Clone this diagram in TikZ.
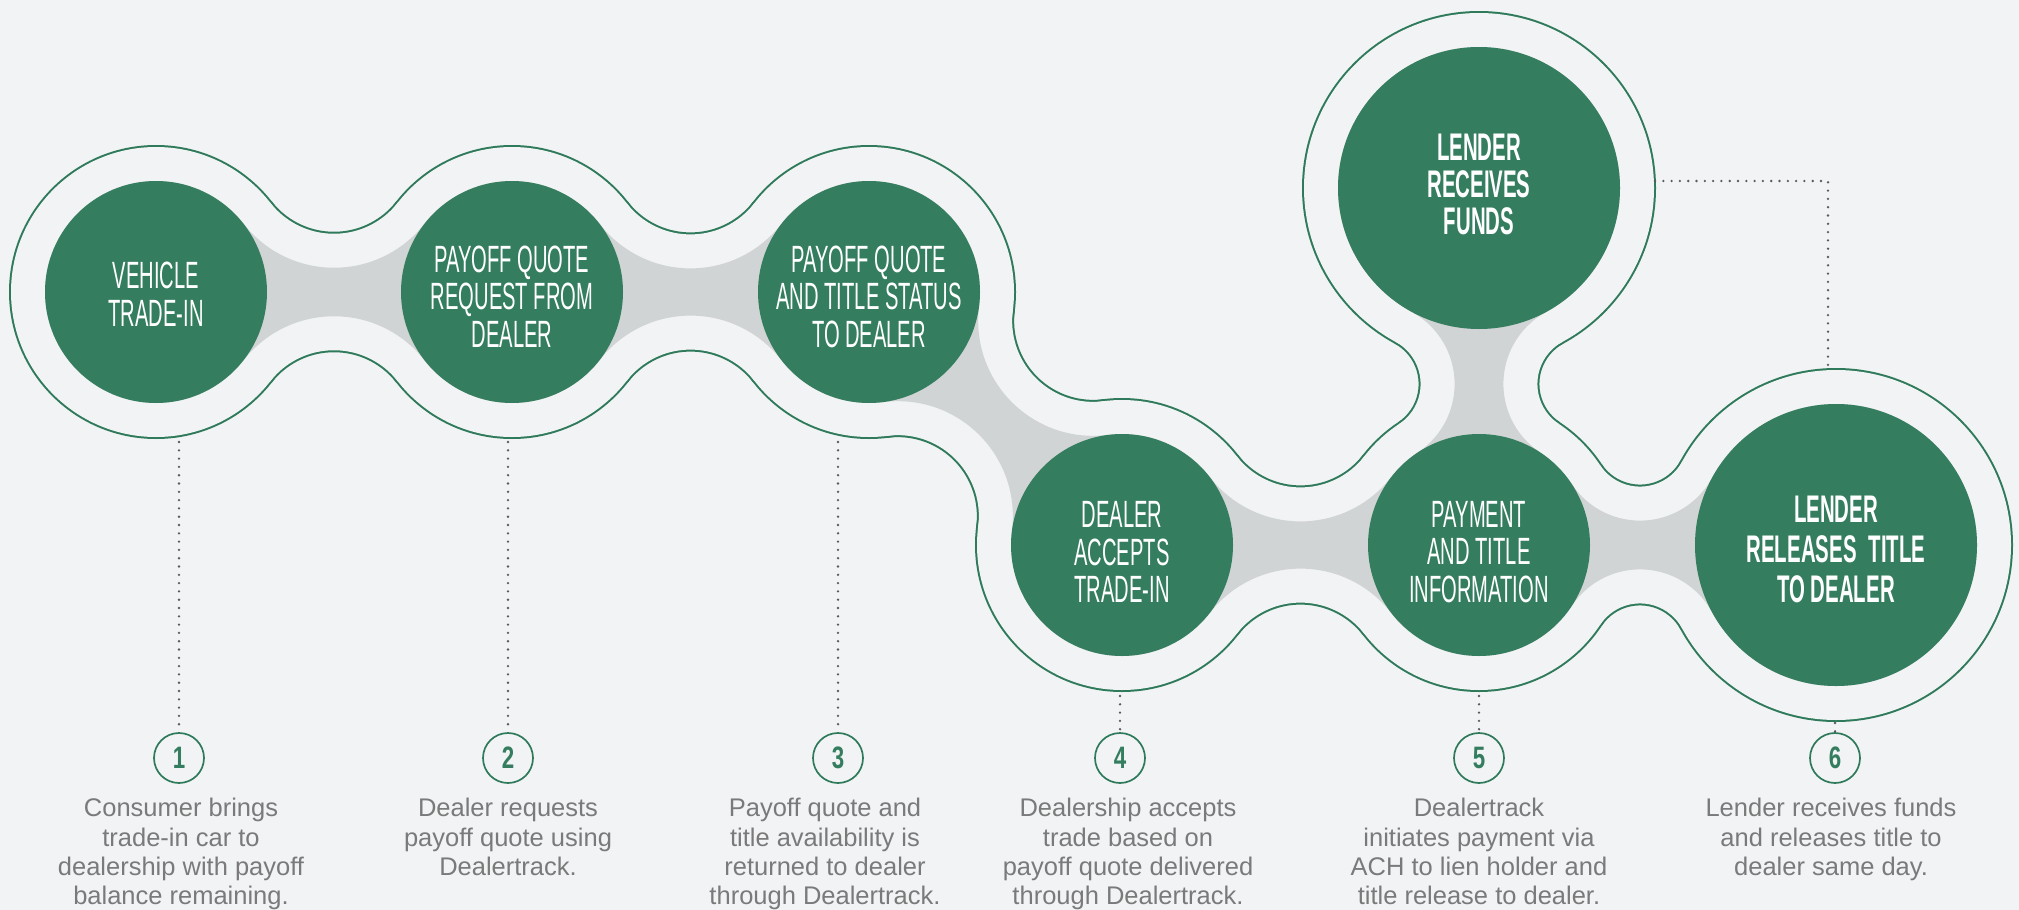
\documentclass[tikz,border=0pt]{standalone}
\usepackage{fontspec}
\setmainfont{Liberation Sans}
\newfontfamily\condfont[FakeStretch=0.53]{Liberation Sans}
\newfontfamily\numfont[FakeStretch=0.72]{Liberation Sans}
\usetikzlibrary{calc}
\definecolor{bgc}{RGB}{241,243,245}
\definecolor{stepgreen}{RGB}{52,125,95}
\definecolor{linegreen}{RGB}{46,122,90}
\definecolor{neckgray}{RGB}{209,212,213}
\definecolor{desctext}{RGB}{122,122,122}
\definecolor{dotc}{RGB}{88,90,95}

% #1 A, #2 B, #3 rA, #4 rB, #5 fillet radius, #6 fillet centre 1, #7 fillet centre 2, #8 offset, #9 colour
\newcommand\neckfill[9]{%
  \begin{scope}
    \pgfmathsetmacro\ratA{(#3+#8)/(#3+#5)}
    \pgfmathsetmacro\ratB{(#4+#8)/(#4+#5)}
    \pgfmathsetmacro\filr{#5-#8}
    \path ($(#1)!\ratA!(#6)$) coordinate (ta)
          ($(#2)!\ratB!(#6)$) coordinate (tb)
          ($(#2)!\ratB!(#7)$) coordinate (tc)
          ($(#1)!\ratA!(#7)$) coordinate (td);
    \clip (#1) -- (ta) -- (tb) -- (#2) -- (tc) -- (td) -- cycle;
    \fill[#9, even odd rule] (-50,-50) rectangle (2100,1000)
      (#6) circle (\filr) (#7) circle (\filr);
  \end{scope}}

\newcommand\blob[2]{%
  \foreach \cc/\rr in {C1/111,C2/111,C3/111,C4/111,C5/111,C6/141,C7/141}
    {\fill[#2] (\cc) circle ({\rr+#1});}
  \neckfill{C1}{C2}{111}{111}{115}{F12u}{F12d}{#1}{#2}
  \neckfill{C2}{C3}{111}{111}{115}{F23u}{F23d}{#1}{#2}
  \neckfill{C3}{C4}{111}{111}{115}{F34u}{F34d}{#1}{#2}
  \neckfill{C4}{C5}{111}{111}{115}{F45u}{F45d}{#1}{#2}
  \neckfill{C5}{C6}{111}{141}{82}{F56u}{F56d}{#1}{#2}
  \neckfill{C5}{C7}{111}{141}{82}{F57l}{F57r}{#1}{#2}
}

\begin{document}
\begin{tikzpicture}[x=1pt,y=-1pt,
  steplabel/.style={text=white, align=center, inner sep=0pt,
    font=\condfont\fontsize{38}{37.5}\selectfont},
  boldlabel/.style={text=white, align=center, inner sep=0pt,
    font=\condfont\bfseries\fontsize{38.5}{#1}\selectfont},
  numcirc/.style={circle, draw=linegreen, line width=1.7pt, minimum size=50pt,
    inner sep=0pt, text=stepgreen, font=\numfont\bfseries\fontsize{31}{31}\selectfont},
  desc/.style={anchor=base, inner sep=0pt, text=desctext,
    font=\fontsize{25.5}{29.4}\selectfont},
  dotline/.style={draw=dotc, line width=2.6pt, line cap=round, dash pattern=on 0pt off 8.3pt}]
\useasboundingbox (0,0) rectangle (2019,910);
\fill[bgc] (0,0) rectangle (2019,910);

% circle centres
\coordinate (C1) at (156,292);
\coordinate (C2) at (512,292);
\coordinate (C3) at (869,292);
\coordinate (C4) at (1122,545);
\coordinate (C5) at (1479,545);
\coordinate (C6) at (1836,545);
\coordinate (C7) at (1479,188);
% fillet centres
\coordinate (F12u) at (334,152.75);
\coordinate (F12d) at (334,431.25);
\coordinate (F23u) at (690.5,153.39);
\coordinate (F23d) at (690.5,430.61);
\coordinate (F34u) at (1093.15,320.85);
\coordinate (F34d) at (897.85,516.15);
\coordinate (F45u) at (1300.5,406.39);
\coordinate (F45d) at (1300.5,683.61);
\coordinate (F56u) at (1640.02,438.6);
\coordinate (F56d) at (1640.02,651.4);
\coordinate (F57l) at (1372.6,383.98);
\coordinate (F57r) at (1585.4,383.98);

% outline (offset band), grey necks, green circles
\blob{36}{linegreen}
\blob{34}{bgc}
\blob{0}{neckgray}
\foreach \cc/\rr in {C1/111,C2/111,C3/111,C4/111,C5/111,C6/141,C7/141}
  {\fill[stepgreen] (\cc) circle (\rr);}

% circle labels
\node[steplabel] (t1) at (156,294) {VEHICLE\\TRADE-IN};
\node[steplabel] (t2) at (512,296.5) {PAYOFF QUOTE\\REQUEST FROM\\DEALER};
\node[steplabel] (t3) at (869,296.5) {PAYOFF QUOTE\\AND TITLE STATUS\\TO DEALER};
\node[steplabel] (t4) at (1122,552) {DEALER\\ACCEPTS\\TRADE-IN};
\node[steplabel] (t5) at (1479,552) {PAYMENT\\AND TITLE\\INFORMATION};
\node[boldlabel=40] (t6) at (1836,549.5) {LENDER\\RELEASES\, TITLE\\TO DEALER};
\node[boldlabel=37] (t7) at (1479,184) {LENDER\\RECEIVES\\FUNDS};

% number circles
\node[numcirc] (n1) at (179,758) {1};
\node[numcirc] (n2) at (508,758) {2};
\node[numcirc] (n3) at (838,758) {3};
\node[numcirc] (n4) at (1120,758) {4};
\node[numcirc] (n5) at (1479,758) {5};
\node[numcirc] (n6) at (1835,758) {6};

% dotted leaders
\coordinate (p1) at (179,442);
\coordinate (p2) at (508,442);
\coordinate (p3) at (838,442);
\coordinate (p4) at (1120,696);
\coordinate (p5) at (1479,696);
\coordinate (p6) at (1835,723);
\foreach \i in {1,...,6} {\draw[dotline] (p\i) -- (n\i.north);}
\coordinate (q1) at (1655,181);
\coordinate (q2) at (1828,366);
\draw[dotline] (q1) -| (q2);

% descriptions
\node[desc] (d1) at (181,816.7) {\parbox[t]{330pt}{\centering Consumer brings\\trade-in car to\\dealership with payoff\\balance remaining.}};
\node[desc] (d2) at (508,816.7) {\parbox[t]{330pt}{\centering Dealer requests\\payoff quote using\\Dealertrack.}};
\node[desc] (d3) at (825,816.7) {\parbox[t]{330pt}{\centering Payoff quote and\\title availability is\\returned to dealer\\through Dealertrack.}};
\node[desc] (d4) at (1128,816.7) {\parbox[t]{330pt}{\centering Dealership accepts\\trade based on\\payoff quote delivered\\through Dealertrack.}};
\node[desc] (d5) at (1479,816.7) {\parbox[t]{330pt}{\centering Dealertrack\\initiates payment via\\ACH to lien holder and\\title release to dealer.}};
\node[desc] (d6) at (1831,816.7) {\parbox[t]{330pt}{\centering Lender receives funds\\and releases title to\\dealer same day.}};
\end{tikzpicture}
\end{document}
